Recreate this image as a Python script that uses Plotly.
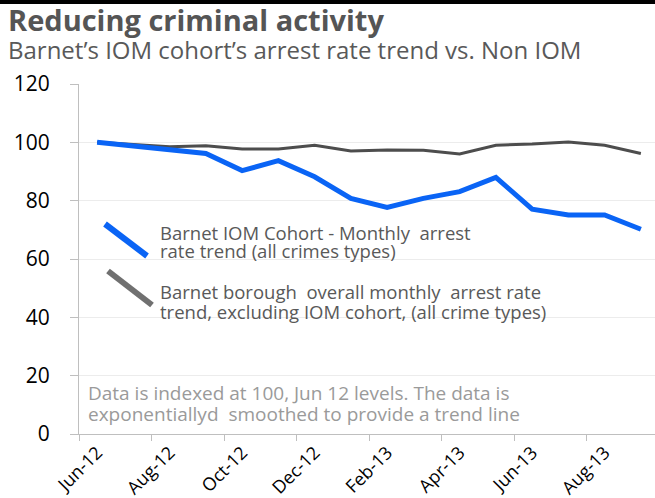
import plotly.graph_objects as go

months = ["Jun-12", "Jul-12", "Aug-12", "Sep-12", "Oct-12", "Nov-12", "Dec-12", "Jan-13",
          "Feb-13", "Mar-13", "Apr-13", "May-13", "Jun-13", "Jul-13", "Aug-13", "Sep-13"]
iom_cohort = [100, 98.7, 97.4, 96.2, 90.3, 93.7, 88.2, 80.8,
              77.7, 80.8, 83.1, 88.0, 77.1, 75.1, 75.1, 70.2]
non_iom = [100, 99.2, 98.5, 98.8, 97.7, 97.7, 99.0, 97.0,
           97.4, 97.3, 96.0, 99.0, 99.4, 100.1, 99.0, 96.2]
y_ticks = [0, 20, 40, 60, 80, 100, 120]

title_text = "Reducing criminal activity"
subtitle_text = "Barnet\u2019s IOM cohort\u2019s arrest rate trend vs. Non IOM"
legend_iom = ["Barnet IOM Cohort - Monthly  arrest", "rate trend (all crimes types)"]
legend_non = ["Barnet borough  overall monthly  arrest rate", "trend, excluding IOM cohort, (all crime types)"]
note_lines = ["Data is indexed at 100, Jun 12 levels. The data is",
              "exponentiallyd  smoothed to provide a trend line"]

BLUE = "#0a64f5"
GREY = "#4d4d4d"
FONT = "'Open Sans', Lato, sans-serif"

fig = go.Figure()
fig.add_trace(go.Scatter(x=months, y=non_iom, mode="lines",
                         line=dict(color=GREY, width=3), name="Non IOM", hoverinfo="skip"))
fig.add_trace(go.Scatter(x=months, y=iom_cohort, mode="lines",
                         line=dict(color=BLUE, width=5), name="IOM", hoverinfo="skip"))

W, H = 655, 498
ml, mr, mt, mb = 79, 0, 84, 64
pw, ph = W - ml - mr, H - mt - mb


def px(x):
    return (x - ml) / pw


def py(y):
    return 1 - (y - mt) / ph


def text_at(x, y, txt, size, color, bold=False):
    fig.add_annotation(xref="paper", yref="paper", x=px(x), y=py(y), xanchor="left", yanchor="middle",
                       text=("<b>" + txt + "</b>") if bold else txt, showarrow=False, align="left",
                       font=dict(family=FONT, size=size, color=color))


# top black border band
fig.add_shape(type="rect", xref="paper", yref="paper", x0=px(0), x1=px(W), y0=py(0), y1=py(3.5),
              fillcolor="black", line=dict(color="black", width=1), layer="above")
# legend glyphs (diagonal)
fig.add_shape(type="line", xref="paper", yref="paper", x0=px(105), y0=py(224), x1=px(147), y1=py(256),
              line=dict(color=BLUE, width=6))
fig.add_shape(type="line", xref="paper", yref="paper", x0=px(108), y0=py(271), x1=px(152), y1=py(305),
              line=dict(color="#707070", width=6))

text_at(6, 19, title_text, 29, "#555555", bold=True)
text_at(6, 50, subtitle_text, 24, "#595959")
text_at(158, 232, legend_iom[0], 18.5, "#595959")
text_at(158, 251, legend_iom[1], 18.5, "#595959")
text_at(158, 291, legend_non[0], 18.5, "#595959")
text_at(158, 311, legend_non[1], 18.5, "#595959")
text_at(86, 393, note_lines[0], 19, "#9a9a9a")
text_at(86, 414, note_lines[1], 19, "#9a9a9a")

fig.update_layout(
    width=W, height=H,
    margin=dict(l=ml, r=mr, t=mt, b=mb, pad=0, autoexpand=False),
    paper_bgcolor="white", plot_bgcolor="white",
    showlegend=False,
    font=dict(family=FONT, color="black"),
    xaxis=dict(type="category", range=[-0.5, -0.5 + pw / 36.25],
               tickmode="linear", tick0=0, dtick=2, tickson="boundaries",
               tickangle=-45, ticks="outside", ticklen=6, tickcolor="#bfbfbf", automargin=False,
               showline=True, linecolor="#bfbfbf", linewidth=1, showgrid=False, zeroline=False,
               tickfont=dict(family=FONT, size=18, color="black")),
    yaxis=dict(range=[0, 120], tickmode="array", tickvals=y_ticks, automargin=False,
               ticks="outside", ticklen=8, tickcolor="#bfbfbf", ticklabelstandoff=16,
               showline=True, linecolor="#bfbfbf", linewidth=1,
               showgrid=True, gridcolor="#ececec", gridwidth=1, zeroline=False,
               tickfont=dict(family=FONT, size=21, color="black")),
)

fig.write_html("out.html", config={"displayModeBar": False},
               post_script="document.body.style.margin='0';document.body.style.overflow='hidden';")
